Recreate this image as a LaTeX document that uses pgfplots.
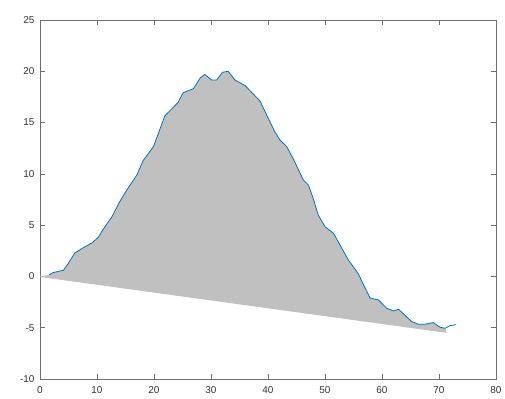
\documentclass[border=0pt]{standalone}
\usepackage{pgfplots}
\pgfplotsset{compat=1.18}
\usepackage{fontspec}
\setmainfont{Liberation Sans}
\definecolor{mblue}{RGB}{0,114,189}
\definecolor{mfill}{RGB}{192,192,192}
\definecolor{maxis}{RGB}{110,110,110}
\begin{document}
\begin{tikzpicture}
\begin{axis}[
  at={(0,0)}, anchor=south west,
  scale only axis, width=456bp, height=359bp,
  xmin=0, xmax=80, ymin=-10, ymax=25,
  xtick={0,10,...,80}, ytick={-10,-5,...,25},
  axis line style={maxis, line width=0.6bp},
  tick style={maxis, line width=0.6bp},
  major tick length=5bp,
  tick align=inside,
  xtick pos=both, ytick pos=both,
  ticklabel style={font=\fontsize{10}{12}\selectfont, text=black!80},
  /pgf/number format/assume math mode=true,
  xticklabel style={yshift=-4bp},
  yticklabel style={xshift=-2bp},
  clip=false,
]
\addplot[fill=mfill, draw=none] coordinates {
(0,0) (1.6,0.15) (2.3,0.37) (4.1,0.6) (5,1.3) (6.1,2.28) (7.6,2.8) (9.2,3.3)
(10.2,3.8) (11.1,4.6) (12.6,5.8) (14,7.3) (15.2,8.4) (17,9.9) (18.1,11.3)
(19.9,12.65) (21.9,15.65) (24.2,16.95) (25.1,17.9) (26.9,18.3) (28.1,19.35)
(28.9,19.7) (30.1,19.15) (31,19.15) (32,19.9) (33,20.0) (34.2,19.15) (36,18.6)
(38.6,17.1) (39.8,15.7) (41.2,14.1) (42.1,13.3) (43.3,12.65) (44.4,11.5)
(46.2,9.4) (47.1,8.9) (48,7.5) (48.8,6.0) (50,4.85) (51.5,4.2) (52.6,3.1)
(54.1,1.6) (55.8,0.3) (57.9,-2.1) (59.4,-2.3) (60.8,-3.1) (62,-3.36) (62.9,-3.2)
(65.2,-4.4) (66.4,-4.66) (67.5,-4.66) (69,-4.5) (70.2,-4.96) (71.1,-5.05)
(71.3,-5.5) (0,-0.05)
} -- cycle;
\addplot[mblue, line width=0.8bp, mark=none] coordinates {
(1.6,0.15) (2.3,0.37) (4.1,0.6) (5,1.3) (6.1,2.28) (7.6,2.8) (9.2,3.3)
(10.2,3.8) (11.1,4.6) (12.6,5.8) (14,7.3) (15.2,8.4) (17,9.9) (18.1,11.3)
(19.9,12.65) (21.9,15.65) (24.2,16.95) (25.1,17.9) (26.9,18.3) (28.1,19.35)
(28.9,19.7) (30.1,19.15) (31,19.15) (32,19.9) (33,20.0) (34.2,19.15) (36,18.6)
(38.6,17.1) (39.8,15.7) (41.2,14.1) (42.1,13.3) (43.3,12.65) (44.4,11.5)
(46.2,9.4) (47.1,8.9) (48,7.5) (48.8,6.0) (50,4.85) (51.5,4.2) (52.6,3.1)
(54.1,1.6) (55.8,0.3) (57.9,-2.1) (59.4,-2.3) (60.8,-3.1) (62,-3.36) (62.9,-3.2)
(65.2,-4.4) (66.4,-4.66) (67.5,-4.66) (69,-4.5) (70.2,-4.96) (71.1,-5.05)
(71.9,-4.8) (73,-4.7)
};
\end{axis}
\pgfresetboundingbox
\path (-40bp,-20bp) rectangle (465bp,379bp);
\end{tikzpicture}
\end{document}
